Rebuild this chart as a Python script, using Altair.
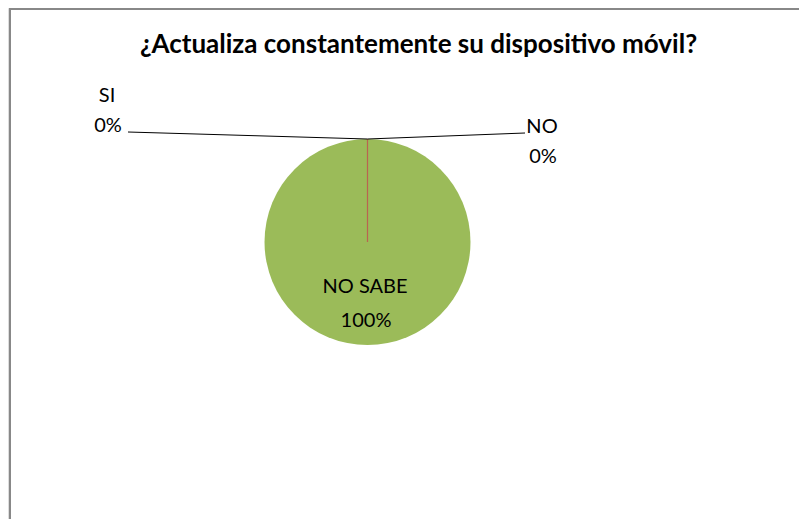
import altair as alt
import pandas as pd

# Data
categories = ["SI", "NO", "NO SABE"]
values = [0, 0, 100]
colors = ["#4F81BD", "#C0504D", "#9BBB59"]
title_text = "¿Actualiza constantemente su dispositivo móvil?"

df = pd.DataFrame({
    "category": categories,
    "value": values,
    "pct": [f"{v}%" for v in values],
})

W, H = 791, 511
CX, CY, R = 359.5, 234, 103

color_scale = alt.Scale(domain=categories, range=colors)
base = alt.Chart(df)

pie = base.mark_arc(radius=R, stroke=None).encode(
    theta=alt.Theta("value:Q", stack=True),
    color=alt.Color("category:N", scale=color_scale, legend=None),
    order=alt.Order("category:N"),
    x=alt.value(CX), y=alt.value(CY),
)

edges = base.mark_arc(radius=R, fillOpacity=0, strokeWidth=1.2).encode(
    theta=alt.Theta("value:Q", stack=True),
    stroke=alt.Color("category:N", scale=color_scale, legend=None),
    strokeOpacity=alt.condition("datum.category == 'NO'", alt.value(0.8), alt.value(0)),
    order=alt.Order("category:N"),
    x=alt.value(CX), y=alt.value(CY),
)

# leader lines
lead1 = base.mark_rule(color="#000000", strokeWidth=1).encode(
    x=alt.value(120), y=alt.value(124), x2=alt.value(CX), y2=alt.value(CY - R)
).transform_filter("datum.category == 'SI'")
lead2 = base.mark_rule(color="#000000", strokeWidth=1).encode(
    x=alt.value(CX), y=alt.value(CY - R), x2=alt.value(517), y2=alt.value(125)
).transform_filter("datum.category == 'NO'")

FONT = "Lato"
FS = 20

def label(cat, field, x, y, align="center"):
    return base.mark_text(font=FONT, fontSize=FS, color="#000000", align=align,
                          baseline="alphabetic").encode(
        text=alt.Text(f"{field}:N"), x=alt.value(x), y=alt.value(y)
    ).transform_filter(f"datum.category == '{cat}'")

labels = [
    label("SI", "category", 99, 94),
    label("SI", "pct", 100, 124),
    label("NO", "category", 534, 125),
    label("NO", "pct", 535, 155),
    label("NO SABE", "category", 357, 285),
    label("NO SABE", "pct", 358, 319),
]

title = base.mark_text(font=FONT, fontSize=26, fontWeight="bold", color="#000000",
                       align="center", baseline="alphabetic").encode(
    text=alt.value(title_text), x=alt.value(410.5), y=alt.value(45)
).transform_filter("datum.category == 'SI'")

border_top = base.mark_rule(color="#888888", strokeWidth=2).encode(
    x=alt.value(1), x2=alt.value(W + 5), y=alt.value(1), y2=alt.value(1)
).transform_filter("datum.category == 'SI'")
border_left = base.mark_rule(color="#888888", strokeWidth=2).encode(
    x=alt.value(2), x2=alt.value(2), y=alt.value(0), y2=alt.value(H + 5)
).transform_filter("datum.category == 'SI'")

chart = alt.layer(
    pie, edges, lead1, lead2, *labels, title, border_top, border_left
).properties(
    width=W, height=H, padding=0, autosize=alt.AutoSizeParams(type="none")
).configure_view(stroke=None).configure(background="#FFFFFF")

chart.save("out.html", embed_options={"renderer": "svg", "actions": False})
